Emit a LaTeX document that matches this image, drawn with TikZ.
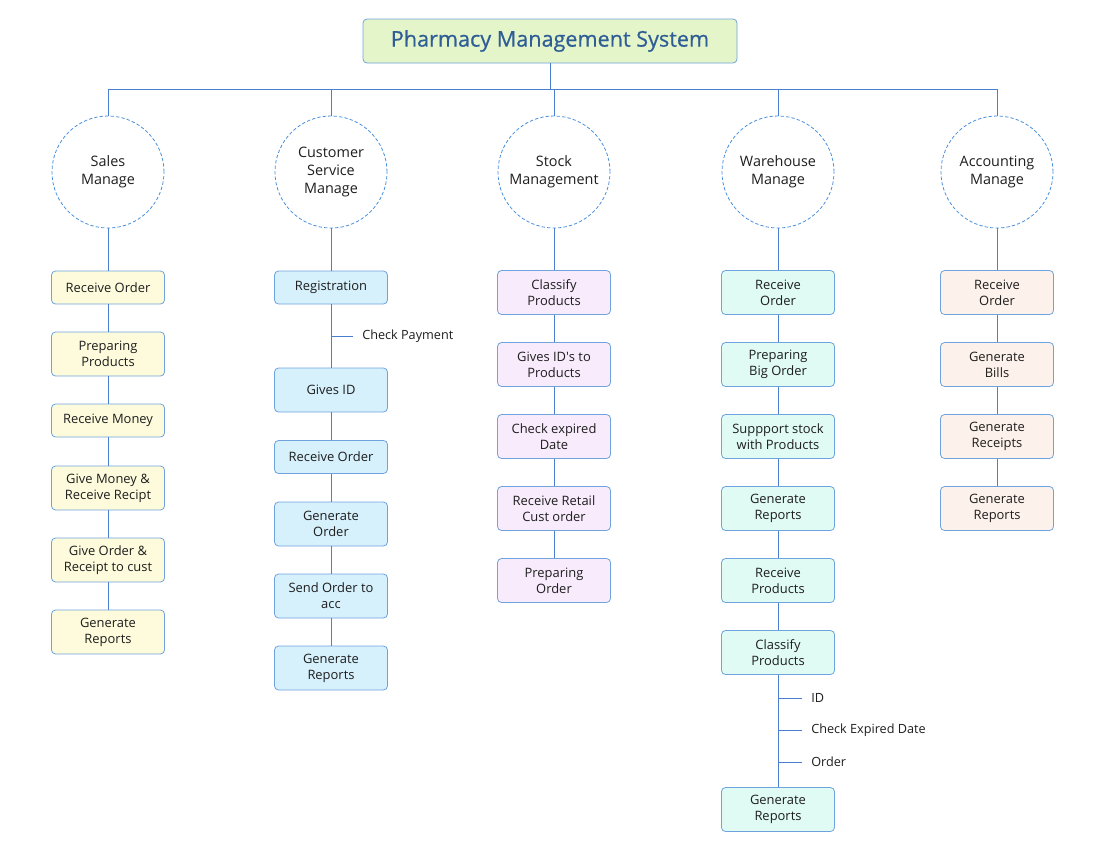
\documentclass[tikz,border=0pt]{standalone}
\usepackage{fontspec}
\setmainfont{Open Sans}
\newfontfamily\titlefont[FakeBold=0.6]{Open Sans}
\definecolor{linec}{HTML}{4A7FCF}
\definecolor{boxb}{HTML}{6FA3DD}
\definecolor{circb}{HTML}{4A90DC}
\definecolor{txt}{HTML}{1E1E1E}
\definecolor{titletxt}{HTML}{2F5D96}
\definecolor{titlefill}{HTML}{E4F5CA}
\definecolor{fsales}{HTML}{FDFBDC}
\definecolor{fcust}{HTML}{D6F1FC}
\definecolor{fstock}{HTML}{F8EBFC}
\definecolor{fware}{HTML}{DFFBF3}
\definecolor{facc}{HTML}{FDF1EB}
\tikzset{
  conn/.style={draw=linec, line width=0.6pt},
  box/.style={draw=boxb, line width=0.6pt, rounded corners=3pt, minimum width=84.75pt,
    align=center, inner sep=0pt, text=txt, font=\fontsize{9.7}{12}\selectfont},
  sbox/.style={box, minimum height=24.75pt},
  tbox/.style={box, minimum height=33pt},
  circ/.style={circle, draw=circb, dashed, dash pattern=on 2.5pt off 1.6pt, line width=0.6pt,
    minimum size=84pt, inner sep=0pt, align=center, text=txt, font=\fontsize{10.8}{13.5}\selectfont},
  lbl/.style={anchor=west, inner sep=0pt, text=txt, font=\fontsize{9.5}{11}\selectfont},
}
\begin{document}
\begin{tikzpicture}[x=0.75pt, y=-0.75pt]
\useasboundingbox (0,0) rectangle (1100,850);
% title
\node[draw=boxb, line width=0.6pt, fill=titlefill, rounded corners=3pt, minimum width=280.5pt,
  minimum height=33pt, text=titletxt, font=\titlefont\fontsize{16.2}{18}\selectfont] (title) at (550,41)
  {Pharmacy Management System};
\coordinate (bus) at (550,89);
% circles
\node[circ] (c1) at (108,172) {Sales\\Manage};
\node[circ] (c2) at (331,172) {Customer\\Service\\Manage};
\node[circ] (c3) at (554,172) {Stock\\Management};
\node[circ] (c4) at (778,172) {Warehouse\\Manage};
\node[circ] (c5) at (997,172) {Accounting\\Manage};
\draw[conn] (title.south) -- (bus);
\draw[conn] (c1.north |- bus) -- (c5.north |- bus);
\foreach \c in {c1,c2,c3,c4,c5} \draw[conn] (\c.north |- bus) -- (\c.north);
% Sales
\node[sbox, fill=fsales] (s1) at (108,287.5) {Receive Order};
\node[tbox, fill=fsales] (s2) at (108,354) {Preparing\\Products};
\node[sbox, fill=fsales] (s3) at (108,420.5) {Receive Money};
\node[tbox, fill=fsales] (s4) at (108,488) {Give Money \&\\Receive Recipt};
\node[tbox, fill=fsales] (s5) at (108,560) {Give Order \&\\Receipt to cust};
\node[tbox, fill=fsales] (s6) at (108,632) {Generate\\Reports};
% Customer
\node[sbox, fill=fcust] (u1) at (331,287.5) {Registration};
\node[tbox, fill=fcust] (u2) at (331,390) {Gives ID};
\node[sbox, fill=fcust] (u3) at (331,457) {Receive Order};
\node[tbox, fill=fcust] (u4) at (331,524) {Generate\\Order};
\node[tbox, fill=fcust] (u5) at (331,596) {Send Order to\\acc};
\node[tbox, fill=fcust] (u6) at (331,668) {Generate\\Reports};
\coordinate (cp) at (331,336);
\coordinate (cpe) at (353,336);
\node[lbl] (cpl) at (362,336) {Check Payment};
% Stock
\node[tbox, fill=fstock] (k1) at (554,292.5) {Classify\\Products};
\node[tbox, fill=fstock] (k2) at (554,364.5) {Gives ID\textquotesingle s to\\Products};
\node[tbox, fill=fstock] (k3) at (554,436.5) {Check expired\\Date};
\node[tbox, fill=fstock] (k4) at (554,508.5) {Receive Retail\\Cust order};
\node[tbox, fill=fstock] (k5) at (554,580.5) {Preparing\\Order};
% Warehouse
\node[tbox, fill=fware] (w1) at (778,292.5) {Receive\\Order};
\node[tbox, fill=fware] (w2) at (778,364.5) {Preparing\\Big Order};
\node[tbox, fill=fware] (w3) at (778,436.5) {Suppport stock\\with Products};
\node[tbox, fill=fware] (w4) at (778,508.5) {Generate\\Reports};
\node[tbox, fill=fware] (w5) at (778,580.5) {Receive\\Products};
\node[tbox, fill=fware] (w6) at (778,652.5) {Classify\\Products};
\node[tbox, fill=fware] (w7) at (778,809.5) {Generate\\Reports};
\coordinate (wa) at (778,698); \coordinate (wae) at (802,698);
\coordinate (wb) at (778,730); \coordinate (wbe) at (802,730);
\coordinate (wc) at (778,762); \coordinate (wce) at (802,762);
\node[lbl] (la) at (811,698) {ID};
\node[lbl] (lb) at (811,730) {Check Expired Date};
\node[lbl] (lc) at (811,762) {Order};
% Accounting
\node[tbox, fill=facc] (a1) at (997,292.5) {Receive\\Order};
\node[tbox, fill=facc] (a2) at (997,364.5) {Generate\\Bills};
\node[tbox, fill=facc] (a3) at (997,436.5) {Generate\\Receipts};
\node[tbox, fill=facc] (a4) at (997,508.5) {Generate\\Reports};
% chains
\foreach \a/\b in {c1/s1,s1/s2,s2/s3,s3/s4,s4/s5,s5/s6,
  c2/u1,u1/u2,u2/u3,u3/u4,u4/u5,u5/u6,
  c3/k1,k1/k2,k2/k3,k3/k4,k4/k5,
  c4/w1,w1/w2,w2/w3,w3/w4,w4/w5,w5/w6,w6/w7,
  c5/a1,a1/a2,a2/a3,a3/a4}
  \draw[conn] (\a.south) -- (\b.north);
\draw[conn] (cp) -- (cpe);
\draw[conn] (wa) -- (wae);
\draw[conn] (wb) -- (wbe);
\draw[conn] (wc) -- (wce);
\end{tikzpicture}
\end{document}
